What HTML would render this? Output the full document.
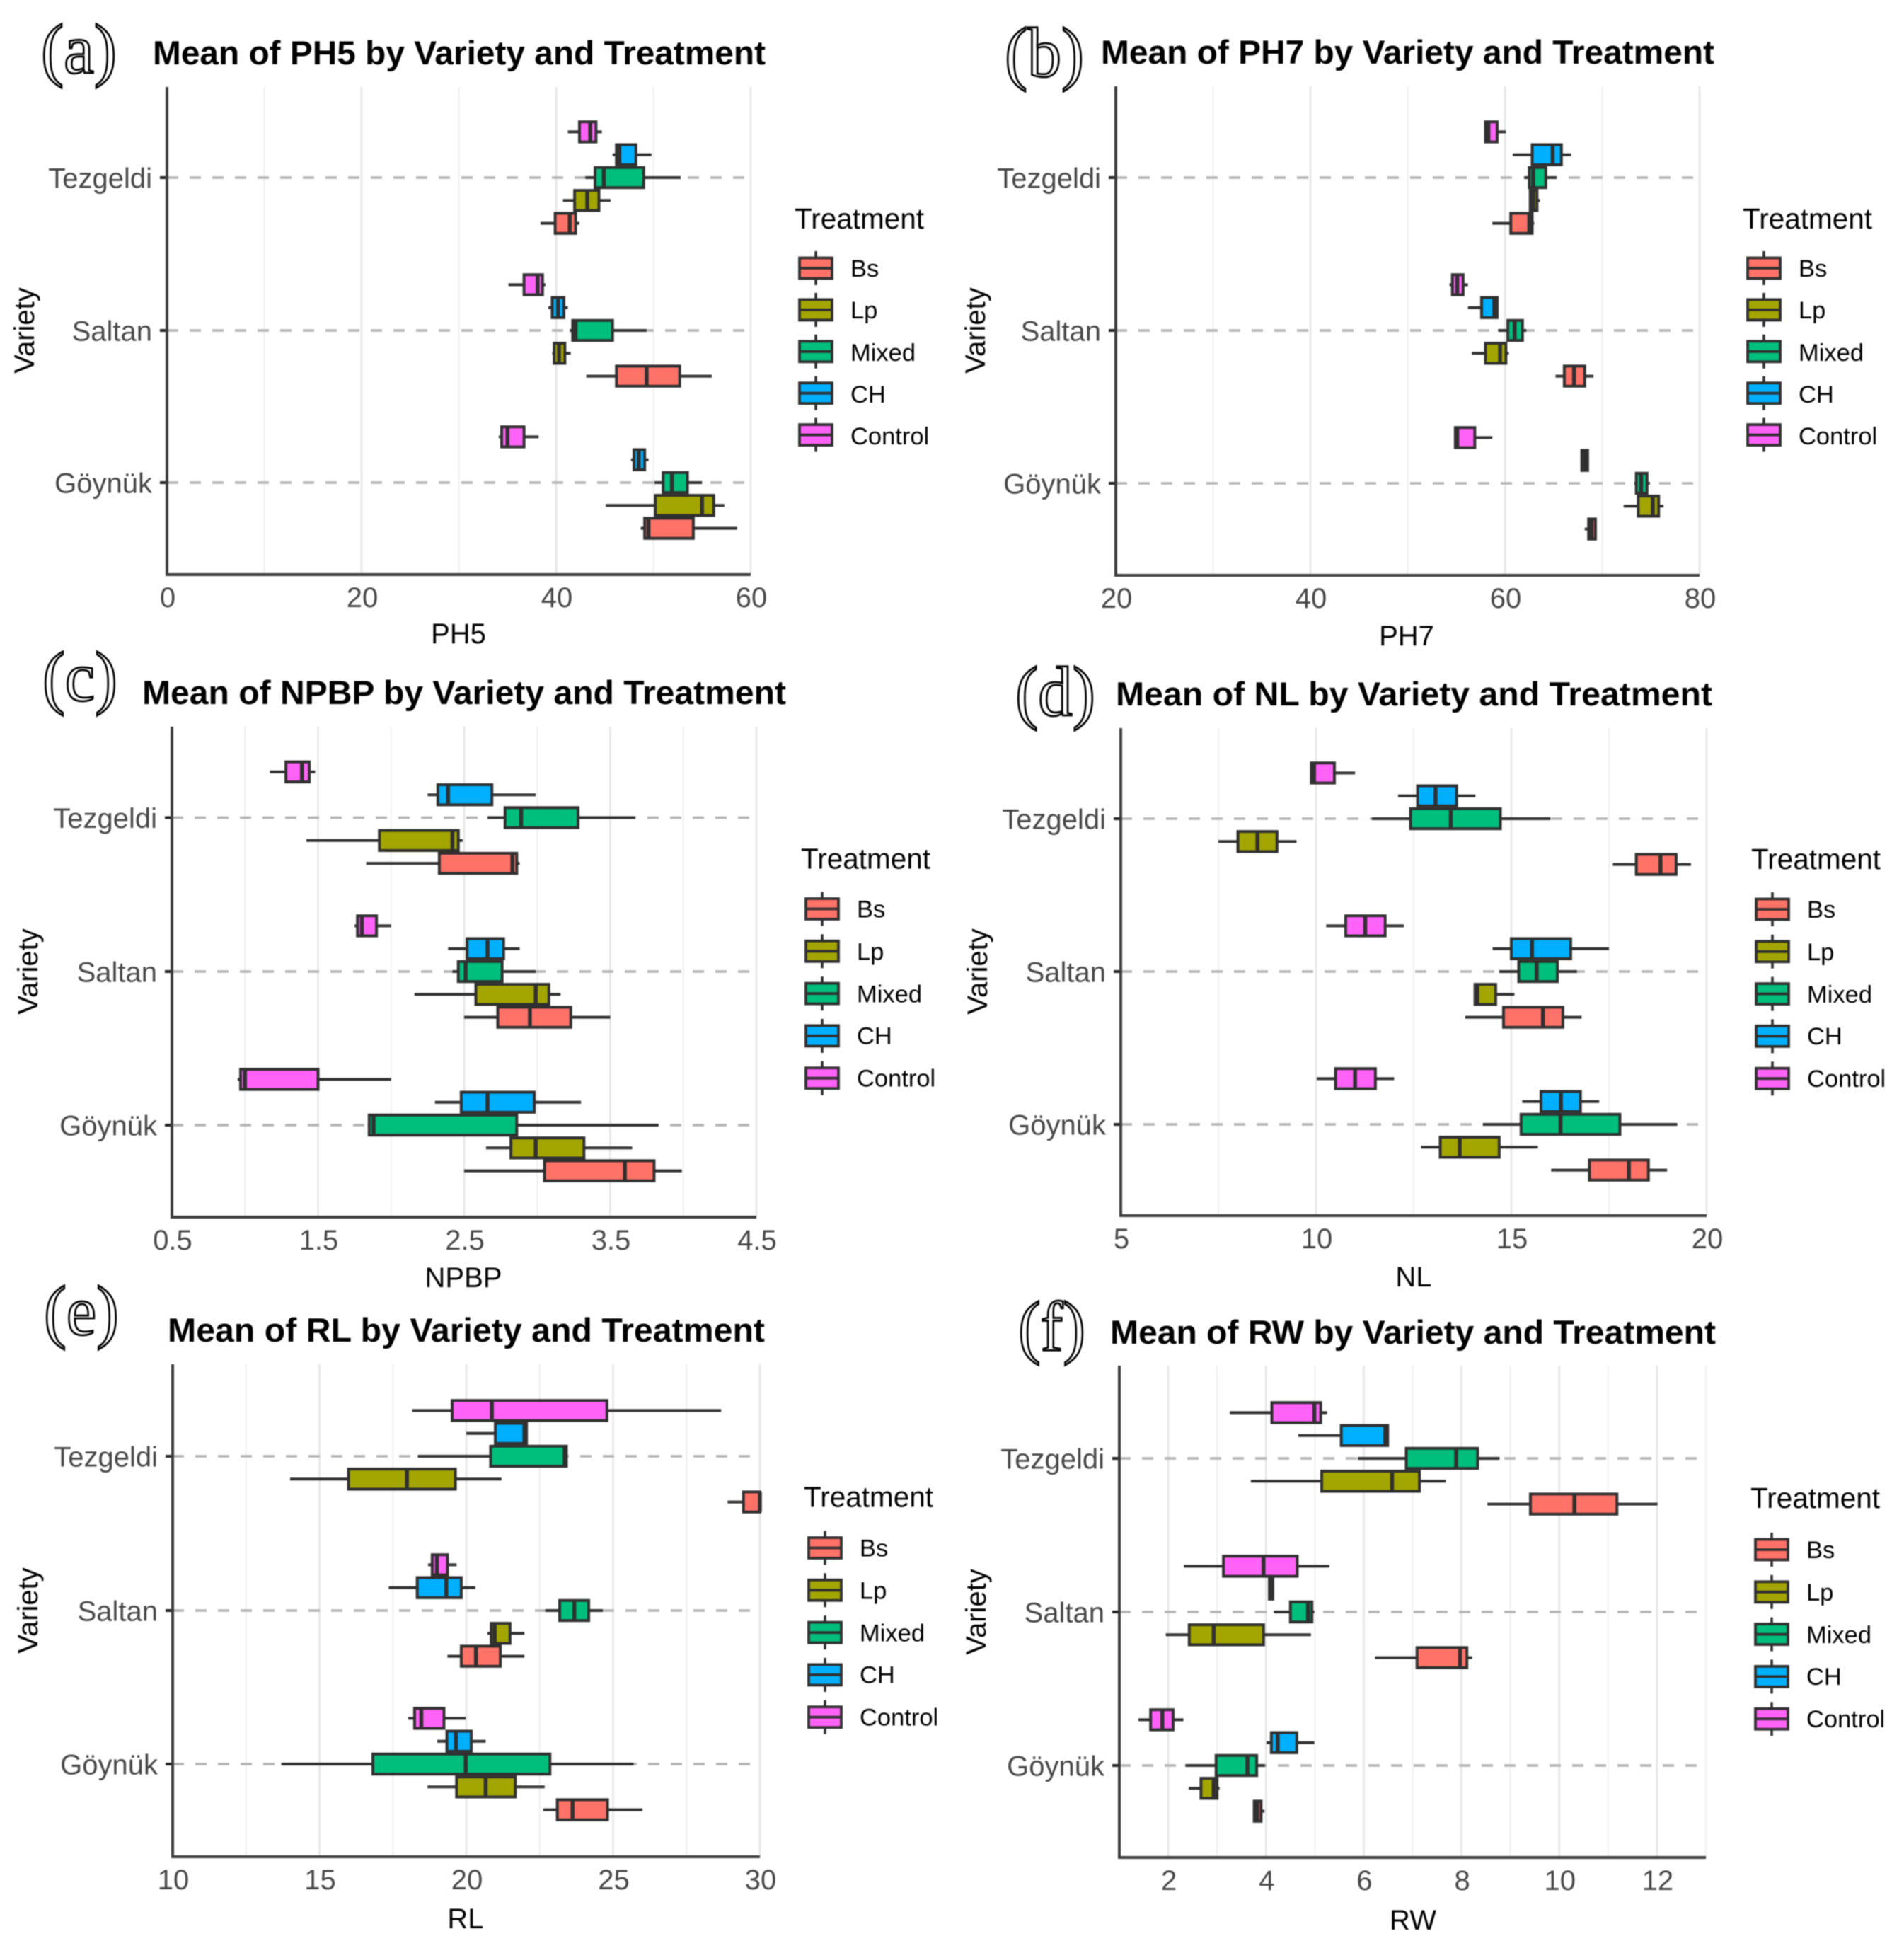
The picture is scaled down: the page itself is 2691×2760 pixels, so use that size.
<!DOCTYPE html>
<html lang="en">
<head>
<meta charset="utf-8">
<title>Mean of traits by Variety and Treatment</title>
<style>
html,body{margin:0;padding:0;background:#fff;}
svg{display:block;filter:blur(0.8px);}
text{font-family:"Liberation Sans",Arial,sans-serif;}
.title{font-size:47px;font-weight:bold;fill:#000;}
.letter{font-family:"Liberation Serif",serif;font-size:100px;fill:#fff;stroke:#000;stroke-width:2.8px;}
.axis-title{font-size:40px;fill:#000;text-anchor:middle;}
.legend-title{font-size:40.5px;fill:#000;}
.legend-label{font-size:34.5px;fill:#000;}
.tick{font-size:40px;fill:#474747;}
</style>
</head>
<body>
<svg id="fig" xmlns="http://www.w3.org/2000/svg" width="2691" height="2760" viewBox="0 0 2691 2760">
<rect width="2691" height="2760" fill="#fff"/>

<g id="panel-a">
<g id="marks-a"></g>
<text class="letter" x="58" y="103" textLength="107" lengthAdjust="spacingAndGlyphs">(a)</text>
<text class="title" x="216" y="91" textLength="866" lengthAdjust="spacingAndGlyphs">Mean of PH5 by Variety and Treatment</text>
<text class="axis-title" x="648" y="909">PH5</text>
<text class="axis-title" transform="translate(48,467) rotate(-90)">Variety</text>
<g id="legend-a" transform="translate(1123,379)">
<text class="legend-title" x="0" y="-56">Treatment</text>
<text class="legend-label" x="79" y="12">Bs</text>
<text class="legend-label" x="79" y="71">Lp</text>
<text class="legend-label" x="79" y="131">Mixed</text>
<text class="legend-label" x="79" y="190">CH</text>
<text class="legend-label" x="79" y="249">Control</text>
</g>
</g>

<g id="panel-b">
<g id="marks-b"></g>
<text class="letter" x="1420" y="108" textLength="112" lengthAdjust="spacingAndGlyphs">(b)</text>
<text class="title" x="1556" y="90" textLength="867" lengthAdjust="spacingAndGlyphs">Mean of PH7 by Variety and Treatment</text>
<text class="axis-title" x="1988" y="912">PH7</text>
<text class="axis-title" transform="translate(1392,467) rotate(-90)">Variety</text>
<g id="legend-b" transform="translate(2463,379)">
<text class="legend-title" x="0" y="-56">Treatment</text>
<text class="legend-label" x="79" y="12">Bs</text>
<text class="legend-label" x="79" y="71">Lp</text>
<text class="legend-label" x="79" y="131">Mixed</text>
<text class="legend-label" x="79" y="190">CH</text>
<text class="legend-label" x="79" y="249">Control</text>
</g>
</g>

<g id="panel-c">
<g id="marks-c"></g>
<text class="letter" x="60" y="990" textLength="106" lengthAdjust="spacingAndGlyphs">(c)</text>
<text class="title" x="201" y="995" textLength="910" lengthAdjust="spacingAndGlyphs">Mean of NPBP by Variety and Treatment</text>
<text class="axis-title" x="655" y="1819">NPBP</text>
<text class="axis-title" transform="translate(53,1373) rotate(-90)">Variety</text>
<g id="legend-c" transform="translate(1132,1284.5)">
<text class="legend-title" x="0" y="-57">Treatment</text>
<text class="legend-label" x="79" y="12">Bs</text>
<text class="legend-label" x="79" y="72">Lp</text>
<text class="legend-label" x="79" y="132">Mixed</text>
<text class="legend-label" x="79" y="191">CH</text>
<text class="legend-label" x="79" y="251">Control</text>
</g>
</g>

<g id="panel-d">
<g id="marks-d"></g>
<text class="letter" x="1435" y="1011" textLength="113" lengthAdjust="spacingAndGlyphs">(d)</text>
<text class="title" x="1577" y="997" textLength="843" lengthAdjust="spacingAndGlyphs">Mean of NL by Variety and Treatment</text>
<text class="axis-title" x="1998" y="1818">NL</text>
<text class="axis-title" transform="translate(1395,1373) rotate(-90)">Variety</text>
<g id="legend-d" transform="translate(2475,1285)">
<text class="legend-title" x="0" y="-57">Treatment</text>
<text class="legend-label" x="79" y="12">Bs</text>
<text class="legend-label" x="79" y="72">Lp</text>
<text class="legend-label" x="79" y="132">Mixed</text>
<text class="legend-label" x="79" y="191">CH</text>
<text class="legend-label" x="79" y="251">Control</text>
</g>
</g>

<g id="panel-e">
<g id="marks-e"></g>
<text class="letter" x="62" y="1886" textLength="106" lengthAdjust="spacingAndGlyphs">(e)</text>
<text class="title" x="237" y="1896" textLength="844" lengthAdjust="spacingAndGlyphs">Mean of RL by Variety and Treatment</text>
<text class="axis-title" x="658" y="2725">RL</text>
<text class="axis-title" transform="translate(53,2276) rotate(-90)">Variety</text>
<g id="legend-e" transform="translate(1136,2187.5)">
<text class="legend-title" x="0" y="-58">Treatment</text>
<text class="legend-label" x="79" y="12">Bs</text>
<text class="legend-label" x="79" y="72">Lp</text>
<text class="legend-label" x="79" y="132">Mixed</text>
<text class="legend-label" x="79" y="191">CH</text>
<text class="legend-label" x="79" y="251">Control</text>
</g>
</g>

<g id="panel-f">
<g id="marks-f"></g>
<text class="letter" x="1439" y="1908" textLength="95" lengthAdjust="spacingAndGlyphs">(f)</text>
<text class="title" x="1569" y="1899" textLength="856" lengthAdjust="spacingAndGlyphs">Mean of RW by Variety and Treatment</text>
<text class="axis-title" x="1997" y="2727">RW</text>
<text class="axis-title" transform="translate(1393,2278) rotate(-90)">Variety</text>
<g id="legend-f" transform="translate(2474,2190)">
<text class="legend-title" x="0" y="-59">Treatment</text>
<text class="legend-label" x="79" y="12">Bs</text>
<text class="legend-label" x="79" y="72">Lp</text>
<text class="legend-label" x="79" y="132">Mixed</text>
<text class="legend-label" x="79" y="191">CH</text>
<text class="legend-label" x="79" y="251">Control</text>
</g>
</g>
</svg>

<script>
// Categories: values below are listed per variety, in drawing order top to bottom
const varieties = ["Tezgeldi", "Saltan", "Göynük"];
const plotTreatments = ["Control", "CH", "Mixed", "Lp", "Bs"];
const legendTreatments = ["Bs", "Lp", "Mixed", "CH", "Control"];

// Panel (a) PH5
const ph5Ticks = [0, 20, 40, 60];
const ph5Minor = [10, 30, 50];
const ph5Low    = [41.2,45.8,43.0,40.7,38.4, 35.1,39.2,41.4,39.6,43.1, 34.1,47.7,50.1,45.1,48.7];
const ph5Q1     = [42.4,46.2,44.0,41.9,39.9, 36.7,39.6,41.7,39.8,46.2, 34.4,48.0,51.0,50.2,49.1];
const ph5Median = [43.5,46.5,44.9,43.2,41.4, 38.1,40.2,42.0,40.3,49.3, 35.0,48.5,51.9,55.0,49.5];
const ph5Q3     = [44.1,48.2,49.0,44.4,42.0, 38.6,40.8,45.8,40.9,52.7, 36.7,49.1,53.5,56.2,54.1];
const ph5High   = [44.7,49.8,52.8,45.6,42.4, 38.9,41.2,49.3,41.5,56.0, 38.2,49.5,55.0,57.3,58.6];

// Panel (b) PH7
const ph7Ticks = [20, 40, 60, 80];
const ph7Minor = [30, 50, 70];
const ph7Low    = [58.0,60.8,62.0,62.5,58.7, 54.3,56.2,59.3,56.6,65.2, 54.9,67.8,73.3,72.2,68.2];
const ph7Q1     = [58.0,62.8,62.5,62.6,60.6, 54.6,57.6,60.3,58.0,66.1, 54.9,67.9,73.5,73.7,68.6];
const ph7Median = [58.3,64.9,62.9,62.9,62.5, 55.1,58.9,61.0,59.5,67.1, 55.1,68.2,74.0,75.2,68.9];
const ph7Q3     = [59.2,65.8,64.2,63.3,62.8, 55.7,59.2,61.8,60.1,68.2, 56.9,68.5,74.6,75.8,69.3];
const ph7High   = [60.1,66.8,65.3,63.6,63.0, 56.2,59.2,62.2,60.4,69.1, 58.7,68.6,74.9,76.3,69.4];

// Panel (c) NPBP
const npbpTicks = ["0.5", "1.5", "2.5", "3.5", "4.5"];
const npbpMinor = [1, 2, 3, 4];
const npbpLow    = [1.17,2.25,2.66,1.42,1.83, 1.75,2.39,2.42,2.16,2.50, 0.95,2.30,1.84,2.65,2.50];
const npbpQ1     = [1.28,2.32,2.78,1.92,2.33, 1.77,2.52,2.46,2.58,2.73, 0.97,2.48,1.85,2.82,3.05];
const npbpMedian = [1.39,2.39,2.89,2.42,2.83, 1.80,2.66,2.51,2.99,2.95, 1.00,2.66,1.88,2.99,3.60];
const npbpQ3     = [1.44,2.69,3.28,2.46,2.86, 1.90,2.77,2.76,3.08,3.23, 1.50,2.98,2.86,3.32,3.80];
const npbpHigh   = [1.48,2.99,3.67,2.49,2.88, 2.00,2.88,2.99,3.16,3.50, 2.00,3.30,3.83,3.65,3.99];

// Panel (d) NL
const nlTicks = [5, 10, 15, 20];
const nlMinor = [7.5, 12.5, 17.5];
const nlLow    = [9.88,12.10,11.43,7.50,17.60, 10.26,14.52,14.69,14.07,13.82, 10.02,15.28,14.27,12.69,16.02];
const nlQ1     = [9.88,12.60,12.42,8.00,18.20, 10.76,15.00,15.19,14.07,14.80, 10.50,15.76,15.25,13.18,17.00];
const nlMedian = [9.95,13.06,13.45,8.50,18.82, 11.26,15.53,15.65,14.13,15.81, 11.00,16.27,16.26,13.68,18.01];
const nlQ3     = [10.47,13.60,14.72,9.00,19.22, 11.77,16.52,16.18,14.60,16.32, 11.52,16.77,17.78,14.69,18.51];
const nlHigh   = [11.00,14.08,16.00,9.50,19.60, 12.25,17.50,16.68,15.08,16.80, 12.00,17.25,19.25,15.68,18.99];

// Panel (e) RL
const rlTicks = [10, 15, 20, 25, 30];
const rlMinor = [12.5, 17.5, 22.5, 27.5];
const rlLow    = [18.16,20.00,18.35,14.00,28.90, 18.70,17.36,22.69,20.72,19.36, 18.02,19.01,13.70,18.68,22.62];
const rlQ1     = [19.52,20.99,20.83,15.99,29.44, 18.84,18.33,23.18,20.85,19.83, 18.24,19.34,16.82,19.67,23.10];
const rlMedian = [20.87,21.98,23.35,17.98,30.00, 19.00,19.32,23.68,20.97,20.33, 18.47,19.65,19.98,20.66,23.62];
const rlQ3     = [24.79,22.05,23.41,19.63,30.00, 19.36,19.83,24.17,21.49,21.16, 19.24,20.17,22.85,21.67,24.81];
const rlHigh   = [28.68,22.07,23.43,21.20,30.00, 19.67,20.31,24.65,21.98,21.98, 19.98,20.66,25.70,22.67,26.00];

// Panel (f) RW
const rwTicks = [2, 4, 6, 8, 10, 12];
const rwMinor = [3, 5, 7, 9, 11, 13];
const rwLow    = [3.26,4.66,5.88,3.69,8.53, 2.32,4.06,4.16,1.95,6.23, 1.39,4.01,2.35,2.42,3.75];
const rwQ1     = [4.12,5.54,6.87,5.14,9.41, 3.13,4.07,4.50,2.43,7.09, 1.64,4.11,2.98,2.67,3.76];
const rwMedian = [4.99,6.44,7.89,6.58,10.31, 3.95,4.10,4.86,2.93,7.97, 1.88,4.24,3.62,2.93,3.82];
const rwQ3     = [5.12,6.49,8.33,7.14,11.18, 4.64,4.14,4.94,3.95,8.11, 2.10,4.63,3.81,3.00,3.90];
const rwHigh   = [5.25,6.49,8.78,7.68,12.01, 5.30,4.16,4.99,4.92,8.22, 2.31,4.99,3.98,3.05,3.97];

var SVGNS = "http://www.w3.org/2000/svg";
var fills = { Bs: "#FF7268", Lp: "#A3A500", Mixed: "#00BF7D", CH: "#00B0FF", Control: "#FF62F7" };
var DARK = "#303030";
var DODGE = 32.3;

function make(tag, parent, attrs) {
  var el = document.createElementNS(SVGNS, tag);
  for (var k in attrs) { el.setAttribute(k, attrs[k]); }
  parent.appendChild(el);
  return el;
}

var panels = [
  { id: "a", x0: 236, x1: 1061, top: 123, bottom: 812, rows: [251, 467, 682], lo: 0, hi: 60, legendStep: 58.9,
    ticks: ph5Ticks, minor: ph5Minor, low: ph5Low, q1: ph5Q1, med: ph5Median, q3: ph5Q3, high: ph5High },
  { id: "b", x0: 1577, x1: 2402, top: 122, bottom: 813, rows: [251, 467, 683], lo: 20, hi: 80, legendStep: 58.9,
    ticks: ph7Ticks, minor: ph7Minor, low: ph7Low, q1: ph7Q1, med: ph7Median, q3: ph7Q3, high: ph7High },
  { id: "c", x0: 243, x1: 1069, top: 1027, bottom: 1720, rows: [1155.5, 1373, 1590], lo: 0.5, hi: 4.5, legendStep: 59.8,
    ticks: npbpTicks, minor: npbpMinor, low: npbpLow, q1: npbpQ1, med: npbpMedian, q3: npbpQ3, high: npbpHigh },
  { id: "d", x0: 1584, x1: 2412, top: 1029, bottom: 1718, rows: [1157, 1373, 1589], lo: 5, hi: 20, legendStep: 59.8,
    ticks: nlTicks, minor: nlMinor, low: nlLow, q1: nlQ1, med: nlMedian, q3: nlQ3, high: nlHigh },
  { id: "e", x0: 244, x1: 1074, top: 1928, bottom: 2624, rows: [2058, 2276, 2493], lo: 10, hi: 30, legendStep: 59.8,
    ticks: rlTicks, minor: rlMinor, low: rlLow, q1: rlQ1, med: rlMedian, q3: rlQ3, high: rlHigh },
  { id: "f", x0: 1582, x1: 2411, top: 1930, bottom: 2625, rows: [2061, 2278, 2495], lo: 1, hi: 13, legendStep: 59.8,
    ticks: rwTicks, minor: rwMinor, low: rwLow, q1: rwQ1, med: rwMedian, q3: rwQ3, high: rwHigh }
];

function drawPanel(p) {
  var g = document.getElementById("marks-" + p.id);
  function xScale(v) { return p.x0 + (Number(v) - p.lo) / (p.hi - p.lo) * (p.x1 - p.x0); }
  function yScale(varietyIndex, treatmentIndex) { return p.rows[varietyIndex] + (treatmentIndex - 2) * DODGE; }

  p.minor.forEach(function (v) {
    var el = make("line", g, { x1: xScale(v), x2: xScale(v), y1: p.top, y2: p.bottom, stroke: "#efefef", "stroke-width": 2 });
    
    
  });
  p.ticks.forEach(function (v) {
    var el = make("line", g, { x1: xScale(v), x2: xScale(v), y1: p.top, y2: p.bottom, stroke: "#e8e8e8", "stroke-width": 3 });
    
    
    var lab = make("text", g, { x: xScale(v) + 1, y: p.bottom + 46, "text-anchor": "middle", "class": "tick" });
    lab.textContent = String(v);
    
    
  });

  varieties.forEach(function (name, vi) {
    var y = p.rows[vi];
    var dash = make("line", g, { x1: p.x0, x2: p.x1 - 4, y1: y, y2: y, stroke: "#b3b3b3", "stroke-width": 3.6, "stroke-dasharray": "16 16" });
    
    
    var tick = make("line", g, { x1: p.x0 - 10, x2: p.x0, y1: y, y2: y, stroke: "#222", "stroke-width": 4 });
    
    
    var lab = make("text", g, { x: p.x0 - 21, y: y + 14.5, "text-anchor": "end", "class": "tick" });
    lab.textContent = name;
    
    
  });

  varieties.forEach(function (name, vi) {
    plotTreatments.forEach(function (tr, ti) {
      var idx = vi * 5 + ti;
      var y = yScale(vi, ti);
      var box = make("g", g, {});
      
      
      var whisk = make("line", box, { x1: xScale(p.low[idx]), x2: xScale(p.high[idx]), y1: y, y2: y, stroke: DARK, "stroke-width": 4 });
      
      
      var rect = make("rect", box, { x: xScale(p.q1[idx]), y: y - 14.2, width: Math.max(0, xScale(p.q3[idx]) - xScale(p.q1[idx])), height: 28.4, fill: fills[tr], stroke: DARK, "stroke-width": 4 });
      
      
      var med = make("line", box, { x1: xScale(p.med[idx]), x2: xScale(p.med[idx]), y1: y - 14.2, y2: y + 14.2, stroke: DARK, "stroke-width": 5.5 });
      
      
    });
  });

  var ya = make("line", g, { x1: p.x0, x2: p.x0, y1: p.top, y2: p.bottom + 2, stroke: "#3c3c3c", "stroke-width": 4 });
  
  
  var xa = make("line", g, { x1: p.x0, x2: p.x1, y1: p.bottom, y2: p.bottom, stroke: "#3c3c3c", "stroke-width": 4 });
  
  

  var lg = document.getElementById("legend-" + p.id);
  legendTreatments.forEach(function (tr, i) {
    var cy = i * p.legendStep;
    var key = make("g", lg, {});
    
    
    var stem = make("line", key, { x1: 30, x2: 30, y1: cy - 24, y2: cy + 24, stroke: DARK, "stroke-width": 3.6 });
    
    
    var r = make("rect", key, { x: 7, y: cy - 14.5, width: 46, height: 29, fill: fills[tr], stroke: DARK, "stroke-width": 3.8 });
    
    
    var m = make("line", key, { x1: 7, x2: 53, y1: cy, y2: cy, stroke: DARK, "stroke-width": 3.8 });
    
    
  });
}

panels.forEach(drawPanel);
</script>
</body>
</html>
